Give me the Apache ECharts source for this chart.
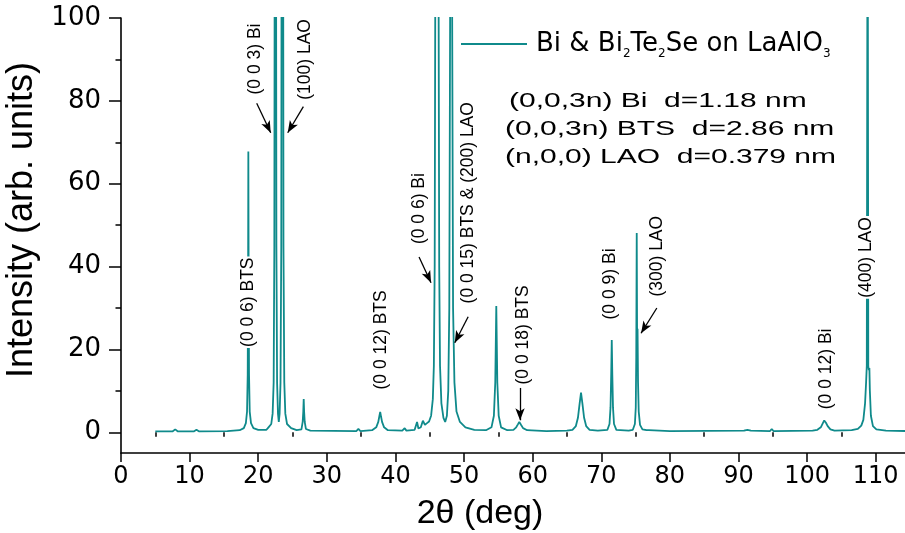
<!DOCTYPE html>
<html><head><meta charset="utf-8">
<script src="https://cdn.jsdelivr.net/npm/echarts@6/dist/echarts.min.js"></script>
<style>html,body{margin:0;padding:0;background:#fff}#c{width:905px;height:533px}</style>
</head><body><div id="c"></div>
<script>
const seriesName = 'Bi & Bi2Te2Se on LaAlO3';
const twoTheta = [5.0,7.5,7.9,8.3,10.6,11.0,11.4,15.5,17.3,17.9,18.2,18.37,18.47,18.53,18.56,18.6,18.66,18.76,18.95,19.3,20.0,20.8,21.0,21.2,21.5,21.7,21.9,22.1,22.25,22.35,22.42,22.5,22.58,22.65,22.75,22.88,23.0,23.12,23.25,23.36,23.45,23.52,23.59,23.68,23.8,23.95,24.2,24.8,25.6,26.3,26.48,26.57,26.63,26.69,26.78,26.95,27.6,34.3,34.6,34.9,36.6,37.2,37.5,37.65,37.78,37.9,38.05,38.35,38.9,41.0,41.35,41.6,42.8,43.15,43.35,43.7,44.0,44.3,44.6,44.9,45.2,45.45,45.6,45.72,45.8,45.9,46.05,46.2,46.3,46.38,46.5,46.7,47.0,47.25,47.5,47.7,47.85,47.97,48.05,48.12,48.19,48.27,48.4,48.6,48.9,49.4,50.2,51.5,53.2,54.0,54.35,54.55,54.7,54.85,55.05,55.4,56.3,57.2,57.6,57.85,58.05,58.3,58.6,59.2,62.0,65.0,65.8,66.3,66.6,66.85,67.05,67.25,67.5,67.8,68.3,69.5,70.9,71.2,71.35,71.45,71.53,71.61,71.71,71.86,72.2,74.0,74.6,74.9,75.03,75.1,75.17,75.23,75.29,75.36,75.46,75.65,76.0,76.6,76.75,76.95,80.0,90.8,91.3,91.8,94.6,94.85,95.1,100.8,101.5,102.0,102.3,102.5,102.75,103.0,103.4,104.0,106.5,107.4,107.9,108.2,108.45,108.6,108.7,108.78,108.82,108.86,108.92,109.0,109.08,109.15,109.3,109.6,110.1,111.5,114.6];
const intensity = [0.2,0.2,0.7,0.2,0.2,0.6,0.2,0.3,0.5,1.0,2.2,5,14,40,67.8,40,14,5,2.2,1.0,0.6,0.6,1.0,0.6,1.2,1.0,2,4.5,12,45,150,400,150,45,12,4.5,2.5,4.5,12,45,200,2500,200,45,12,4.5,2,1,0.5,0.7,2.5,5,8,5,2.5,0.8,0.4,0.3,0.8,0.3,0.5,1.2,2.5,3.8,4.9,3.8,2.5,1.2,0.5,0.4,1.0,0.4,0.6,2.5,0.9,1.2,2.8,1.8,2.2,2.6,4,8,16,40,100,400,800,400,100,40,16,7,3.5,2.5,4,10,30,100,500,3000,500,100,30,12,5,2.5,1.2,0.6,0.5,1.2,4,12,30.5,12,4,1.2,0.5,0.6,1.2,1.9,2.5,1.8,1.0,0.5,0.3,0.4,0.6,1.5,3.5,7,9.6,7,3.5,1.5,0.6,0.4,0.6,2,6,14,22.3,14,6,2,0.6,0.4,0.6,2,6,18,48.1,20,25,12,5,1.8,0.7,0.5,0.9,0.5,0.3,0.4,0.6,0.4,0.3,0.8,0.3,0.4,0.6,1.2,2.2,2.85,2.3,1.5,0.7,0.4,0.5,0.8,1.6,3,7,12,16,100,1200,100,16,15,15.5,10,4,1.5,0.7,0.4,0.3];
const xTickLabels = [0,10,20,30,40,50,60,70,80,90,100,110];
const xMinorTicks = [5,15,25,35,45,55,65,75,85,95,105,115];
const yTickLabels = [0,20,40,60,80,100];
const yMinorTicks = [10,30,50,70,90];
const peakLabels = ['(0 0 3) Bi','(100) LAO','(0 0 6) BTS','(0 0 12) BTS','(0 0 6) Bi','(0 0 15) BTS & (200) LAO','(0 0 18) BTS','(0 0 9) Bi','(300) LAO','(0 0 12) Bi','(400) LAO'];
const peakLabelX = [19.53,26.82,18.56,37.9,43.44,50.58,58.6,71.28,78.13,102.77,108.68];
const peakLabelY = [90.1,90.0,31.4,22.3,54.0,55.4,23.5,35.8,42.5,15.3,42.2];
const arrowFrom = [[19.78,79.4],[26.58,78.6],[43.44,42.3],[50.6,27.9],[58.16,10.7],[78.1,30.0]];
const arrowTo = [[21.82,72.3],[24.3,72.3],[45.19,36.1],[48.65,21.6],[58.16,2.9],[75.8,23.9]];
const dLines = ['(0,0,3n) Bi  d=1.18 nm','(0,0,3n) BTS  d=2.86 nm','(n,0,0) LAO  d=0.379 nm'];

const TEAL = '#0f8a8b';
const chart = echarts.init(document.getElementById('c'), null, {renderer:'canvas'});
const lineData = twoTheta.map((x,i)=>[x, intensity[i]]);
const labelData = peakLabelX.map((x,i)=>[x, peakLabelY[i]]);
const arrowData = arrowFrom.map((f,i)=>[{coord:f, symbol:'none'},{coord:arrowTo[i], symbol:'arrow', symbolSize:[7,12]}]);
const dPos = [[509,101],[505,129],[505,157]];

const axisBase = {type:'value', gridIndex:0, splitLine:{show:false}, minorSplitLine:{show:false}};
chart.setOption({
  animation:false,
  backgroundColor:'#fff',
  grid:{left:121, top:18, right:-5, bottom:80, containLabel:false, outerBoundsMode:'none'},
  legend:{
    data:[seriesName], left:456, top:26, icon:'rect', itemWidth:66, itemHeight:2,
    formatter:()=> '{n|Bi & Bi}{s|2}{n|Te}{s|2}{n|Se on LaAlO}{s|3}',
    textStyle:{padding:[0,0,0,4], rich:{
      n:{fontFamily:'DejaVu Sans', fontSize:26, color:'#000', lineHeight:32},
      s:{fontFamily:'DejaVu Sans', fontSize:12, color:'#000', lineHeight:4, verticalAlign:'bottom'}
    }}
  },
  xAxis:[
    Object.assign({}, axisBase, {min:0, max:115, position:'bottom',
      name:'2θ (deg)', nameLocation:'middle', nameGap:44,
      nameTextStyle:{fontFamily:'Liberation Sans', fontSize:34, color:'#000', padding:[0,71,0,0]},
      axisLine:{show:true, onZero:false, lineStyle:{color:'#000', width:1.6}},
      axisTick:{show:true, length:9, customValues:xTickLabels, lineStyle:{color:'#000', width:1.5}},
      axisLabel:{customValues:xTickLabels, margin:12, fontFamily:'DejaVu Sans', fontSize:24, color:'#000'}
    }),
    Object.assign({}, axisBase, {min:0, max:115, position:'bottom',
      axisLine:{show:false}, axisLabel:{show:false},
      axisTick:{show:true, length:4.5, customValues:xMinorTicks, lineStyle:{color:'#000', width:1.5}}
    })
  ],
  yAxis:[
    Object.assign({}, axisBase, {min:-5, max:100, position:'left',
      name:'Intensity (arb. units)', nameLocation:'middle', nameGap:70,
      nameTextStyle:{fontFamily:'Liberation Sans', fontSize:36, color:'#000', padding:[0,0,0,31]},
      axisLine:{show:true, onZero:false, lineStyle:{color:'#000', width:1.6}},
      axisTick:{show:true, length:12, customValues:yTickLabels, lineStyle:{color:'#000', width:1.5}},
      axisLabel:{customValues:yTickLabels, margin:20, fontFamily:'DejaVu Sans', fontSize:26, color:'#000'}
    }),
    Object.assign({}, axisBase, {min:-5, max:100, position:'left',
      axisLine:{show:false}, axisLabel:{show:false},
      axisTick:{show:true, length:5.5, customValues:yMinorTicks, lineStyle:{color:'#000', width:1.5}}
    })
  ],
  series:[
    {
      name:seriesName, type:'line', xAxisIndex:0, yAxisIndex:0, data:lineData,
      showSymbol:false, symbol:'none', clip:true, color:TEAL, z:2,
      lineStyle:{color:TEAL, width:1.8}, itemStyle:{color:TEAL},
      emphasis:{disabled:true},
      markLine:{silent:true, animation:false, label:{show:false},
        lineStyle:{color:'#000', width:1.3, type:'solid'}, emphasis:{disabled:true},
        data:arrowData}
    },
    {
      name:'labels', type:'custom', xAxisIndex:0, yAxisIndex:0, data:labelData, z:5, clip:false, silent:true,
      renderItem:(params, api)=>{
        const p = api.coord([api.value(0), api.value(1)]);
        return {type:'text', x:p[0], y:p[1], rotation:Math.PI/2,
          style:{text:peakLabels[params.dataIndex], fill:'#000',
            font:'17.5px "Liberation Sans", Arial, sans-serif',
            align:'center', verticalAlign:'middle', backgroundColor:'#fff', padding:[0,1,0,1]}};
      }
    }
  ],
  graphic: dLines.map((t,i)=>({type:'text', x:dPos[i][0], y:dPos[i][1], scaleX:1.5, silent:true,
    style:{text:t, fill:'#000', font:'20px "Liberation Sans", Arial, sans-serif', verticalAlign:'middle'}}))
});
</script></body></html>
